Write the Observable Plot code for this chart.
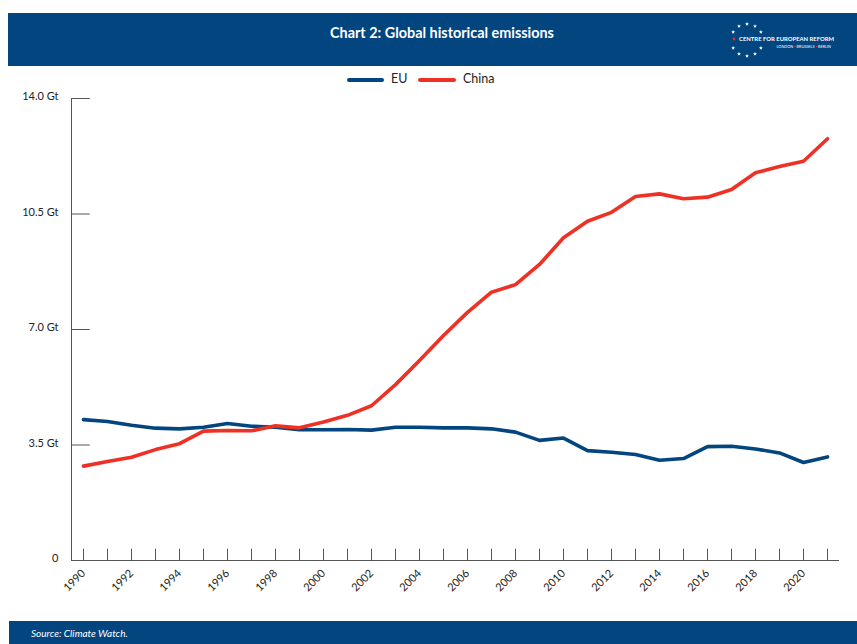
<!DOCTYPE html>
<html>
<head>
<meta charset="utf-8">
<script src="https://cdn.jsdelivr.net/npm/d3@7"></script>
<script src="https://cdn.jsdelivr.net/npm/@observablehq/plot@0.6"></script>
<style>
  html, body { margin: 0; padding: 0; background: #fff; }
  #page { position: relative; width: 857px; height: 644px; overflow: hidden; font-family: Lato, "Open Sans", sans-serif; }
  #header { position: absolute; left: 8px; top: 13px; width: 849px; height: 53px; background: #03457f; }
  #title { position: absolute; left: 0; width: 868px; top: 11px; text-align: center; color: #fff; font-weight: bold; font-size: 14.4px; }
  #logo { position: absolute; left: 712px; top: 2px; }
  #legend { position: absolute; top: 71px; left: 0; width: 857px; height: 18px; font-size: 12.5px; color: #222; }
  .sw { position: absolute; top: 7px; height: 4px; border-radius: 2px; }
  .lt { position: absolute; top: 0px; }
  #chart { position: absolute; left: 0; top: 70px; }
  #footer { position: absolute; left: 9px; top: 621px; width: 848px; height: 23px; background: #03457f; }
  #source { position: absolute; left: 22px; top: 6px; color: #fff; font-style: italic; font-size: 10px; }
</style>
</head>
<body>
<div id="page">
  <div id="header">
    <div id="title">Chart 2: Global historical emissions</div>
    <svg id="logo" width="130" height="50" viewBox="0 0 130 50"></svg>
  </div>
  <div id="legend">
    <div class="sw" style="left:347px;width:37px;background:#03457f"></div>
    <div class="lt" style="left:391px">EU</div>
    <div class="sw" style="left:418px;width:38px;background:#ee3124"></div>
    <div class="lt" style="left:463px">China</div>
  </div>
  <div id="chart"></div>
  <div id="footer"><div id="source">Source: Climate Watch.</div></div>
</div>
<script>
const years = [1990,1991,1992,1993,1994,1995,1996,1997,1998,1999,2000,2001,2002,2003,2004,2005,2006,2007,2008,2009,2010,2011,2012,2013,2014,2015,2016,2017,2018,2019,2020,2021];
const euValues = [4.27,4.21,4.10,4.01,3.99,4.04,4.15,4.07,4.04,3.96,3.96,3.97,3.95,4.04,4.04,4.02,4.02,3.99,3.89,3.64,3.71,3.33,3.28,3.21,3.04,3.09,3.45,3.46,3.38,3.26,2.97,3.14];
const chinaValues = [2.86,3.00,3.13,3.36,3.54,3.92,3.94,3.93,4.08,4.02,4.20,4.40,4.69,5.33,6.06,6.82,7.52,8.13,8.36,8.97,9.78,10.28,10.55,11.03,11.11,10.96,11.01,11.24,11.75,11.94,12.10,12.78];
const seriesNames = ["EU", "China"];
const seriesColors = ["#03457f", "#ee3124"];
const yTicks = [0, 3.5, 7.0, 10.5, 14.0];
const xLabelYears = [1990,1992,1994,1996,1998,2000,2002,2004,2006,2008,2010,2012,2014,2016,2018,2020];

const rows = [];
years.forEach((yr, i) => {
  rows.push({year: yr, value: euValues[i], series: "EU"});
  rows.push({year: yr, value: chinaValues[i], series: "China"});
});

const x0 = years[0] - 0.5, x1 = years[years.length - 1] + 0.5;

const chart = Plot.plot({
  width: 857,
  height: 550,
  marginLeft: 71,
  marginRight: 18,
  marginTop: 28,
  marginBottom: 60,
  style: {fontFamily: "Lato, 'Open Sans', sans-serif", fontSize: "11px", color: "#222", background: "transparent"},
  x: {domain: [x0, x1]},
  y: {domain: [0, 14]},
  color: {domain: seriesNames, range: seriesColors},
  marks: [
    Plot.ruleX([x0], {y1: 0, y2: 14, stroke: "#555", strokeWidth: 1}),
    Plot.ruleY(yTicks, {x1: x0, x2: x0 + 0.78, stroke: "#555", strokeWidth: 1}),
    Plot.ruleX(years, {y1: 0, y2: 0.34, stroke: "#555", strokeWidth: 1}),
    Plot.ruleY([0], {x1: x0, x2: x1, stroke: "#555", strokeWidth: 1}),
    Plot.axisY({ticks: yTicks, tickSize: 0, tickPadding: 13, dy: -2, label: null,
      tickFormat: d => d === 0 ? "0" : d.toFixed(1) + " Gt", fontSize: 11}),
    Plot.axisX({ticks: xLabelYears, tickSize: 0, tickPadding: 11, tickRotate: -45, label: null,
      tickFormat: d => String(d), fontSize: 11}),
    Plot.line(rows, {x: "year", y: "value", z: "series", stroke: "series", strokeWidth: 3.6, strokeLinejoin: "round", strokeLinecap: "round"})
  ]
});
document.getElementById("chart").appendChild(chart);

// logo
const logo = d3.select("#logo");
const cx = 27, cy = 25, r = 16;
const starPath = (x, y, s) => {
  let p = "";
  for (let k = 0; k < 10; k++) {
    const a = -Math.PI / 2 + k * Math.PI / 5;
    const rr = k % 2 === 0 ? s : s * 0.45;
    p += (k === 0 ? "M" : "L") + (x + rr * Math.cos(a)).toFixed(2) + "," + (y + rr * Math.sin(a)).toFixed(2);
  }
  return p + "Z";
};
for (let k = 0; k < 12; k++) {
  const a = -Math.PI / 2 + k * Math.PI / 6;
  if (k === 3 || k === 9) continue;
  logo.append("path").attr("d", starPath(cx + r * Math.cos(a), cy + r * Math.sin(a), 2)).attr("fill", "#fff");
}
logo.append("path").attr("d", starPath(cx - r + 3, cy - 1, 2)).attr("fill", "#ee3124");
logo.append("text").attr("x", 19).attr("y", 26).attr("fill", "#fff").attr("font-size", 5.9).attr("font-weight", "bold")
  .attr("font-family", "Lato, sans-serif").text("CENTRE FOR EUROPEAN REFORM");
const sub = logo.append("text").attr("x", 111).attr("y", 33).attr("fill", "#fff").attr("font-size", 3.8)
  .attr("text-anchor", "end").attr("font-family", "Lato, sans-serif");
sub.append("tspan").text("LONDON ");
sub.append("tspan").attr("fill", "#ee3124").text("\u25AA");
sub.append("tspan").text(" BRUSSELS ");
sub.append("tspan").attr("fill", "#ee3124").text("\u25AA");
sub.append("tspan").text(" BERLIN");
</script>
</body>
</html>
